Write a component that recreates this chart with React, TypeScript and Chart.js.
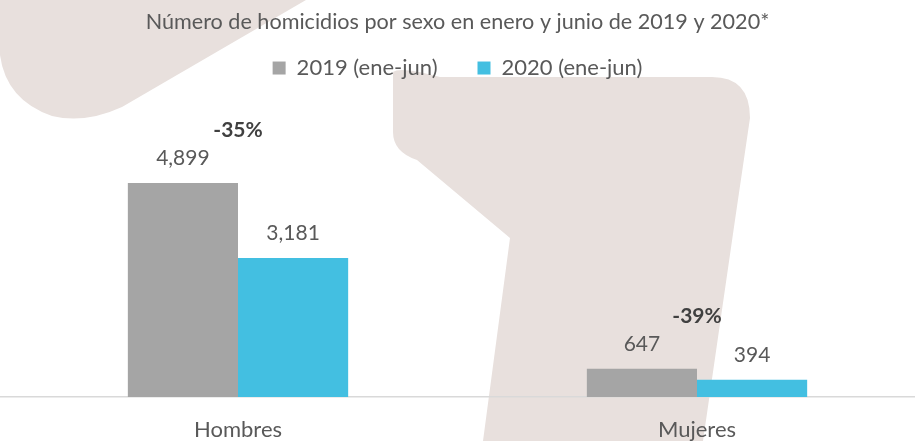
import React, { useEffect, useRef } from "react";
import { Chart, registerables } from "chart.js";

Chart.register(...registerables);

const TITLE = "Número de homicidios por sexo en enero y junio de 2019 y 2020*";
const CATEGORIES = ["Hombres", "Mujeres"];
const SERIES_NAMES = ["2019 (ene-jun)", "2020 (ene-jun)"];
const VALUES_2019 = [4899, 647];
const VALUES_2020 = [3181, 394];
const PERCENT_LABELS = ["-35%", "-39%"];
const Y_MAX = 7051;

const FONT = "Lato";
const TEXT = "#595959";

const watermark = {
  id: "watermark",
  beforeDraw(chart: any) {
    const ctx = chart.ctx;
    ctx.save();
    ctx.fillStyle = "#E8E0DD";
    // top-left band
    ctx.beginPath();
    ctx.moveTo(0, 0);
    ctx.lineTo(306, 0);
    ctx.lineTo(122, 107);
    ctx.quadraticCurveTo(85, 124, 52, 116);
    ctx.quadraticCurveTo(6, 100, 0, 55);
    ctx.closePath();
    ctx.fill();
    // large shape
    ctx.beginPath();
    ctx.moveTo(393, 72);
    ctx.quadraticCurveTo(400, 66, 440, 77);
    ctx.lineTo(712, 77);
    ctx.quadraticCurveTo(750, 77, 750, 118);
    ctx.lineTo(735, 220);
    ctx.lineTo(703, 441);
    ctx.lineTo(483, 441);
    ctx.lineTo(510, 238);
    ctx.lineTo(417, 160);
    ctx.quadraticCurveTo(393, 152, 393, 132);
    ctx.closePath();
    ctx.fill();
    ctx.restore();
  },
};

const valueLabels = {
  id: "valueLabels",
  afterDatasetsDraw(chart: any) {
    const ctx = chart.ctx;
    ctx.save();
    ctx.textAlign = "center";
    ctx.textBaseline = "middle";
    ctx.fillStyle = TEXT;
    ctx.font = `21px ${FONT}`;
    const tops: number[] = [];
    chart.data.datasets.forEach((ds: any, di: number) => {
      const meta = chart.getDatasetMeta(di);
      meta.data.forEach((el: any, i: number) => {
        const v = ds.data[i].y;
        ctx.fillText(v.toLocaleString("en-US"), el.x, el.y - 25);
        tops[i] = Math.min(tops[i] ?? Infinity, el.y);
      });
    });
    ctx.font = `bold 21px ${FONT}`;
    ctx.fillStyle = "#404040";
    const xs = chart.scales.x;
    PERCENT_LABELS.forEach((t, i) => {
      ctx.fillText(t, xs.getPixelForValue(i), tops[i] - 53);
    });
    ctx.restore();
  },
};

export default function App() {
  const ref = useRef<HTMLCanvasElement>(null);
  useEffect(() => {
    if (!ref.current) return;
    const chart = new Chart(ref.current, {
      type: "bar",
      data: {
        datasets: [
          {
            label: SERIES_NAMES[0],
            data: VALUES_2019.map((v, i) => ({ x: i, y: v })),
            backgroundColor: "#A5A5A5",
            borderWidth: 0,
            categoryPercentage: 0.48,
            barPercentage: 1,
          },
          {
            label: SERIES_NAMES[1],
            data: VALUES_2020.map((v, i) => ({ x: i, y: v })),
            backgroundColor: "#43BFE1",
            borderWidth: 0,
            categoryPercentage: 0.48,
            barPercentage: 1,
          },
        ],
      },
      options: {
        responsive: false,
        animation: false,
        layout: { padding: { left: 0, right: 0, top: 0, bottom: -22 } },
        plugins: {
          title: {
            display: true,
            text: TITLE,
            color: TEXT,
            font: { family: FONT, size: 21.6, weight: "normal" },
            padding: { top: 9, bottom: -17.9 },
          },
          legend: {
            display: true,
            labels: {
              color: TEXT,
              font: { family: FONT, size: 22 },
              boxWidth: 13,
              boxHeight: 13,
              padding: 40,
            },
          },
          tooltip: { enabled: false },
        },
        scales: {
          x: {
            type: "linear",
            offset: false,
            min: -0.51852,
            max: 1.47494,
            grid: { display: true, offset: false, drawOnChartArea: false, drawTicks: false },
            border: { display: true, color: "#D9D9D9", width: 1.5 },
            afterBuildTicks: (s: any) => {
              s.ticks = CATEGORIES.map((_, i) => ({ value: i }));
            },
            ticks: {
              padding: 19.8,
              color: TEXT,
              font: { family: FONT, size: 22 },
              callback: (v: any) => CATEGORIES[v] ?? "",
            },
          },
          y: {
            display: false,
            min: 0,
            max: Y_MAX,
          },
        },
      },
      plugins: [watermark, valueLabels],
    } as any);
    return () => chart.destroy();
  }, []);
  return (
    <div style={{ position: "absolute", left: 0, top: 0, width: 915, height: 441, background: "#fff" }}>
      <canvas ref={ref} width={915} height={441} />
    </div>
  );
}
